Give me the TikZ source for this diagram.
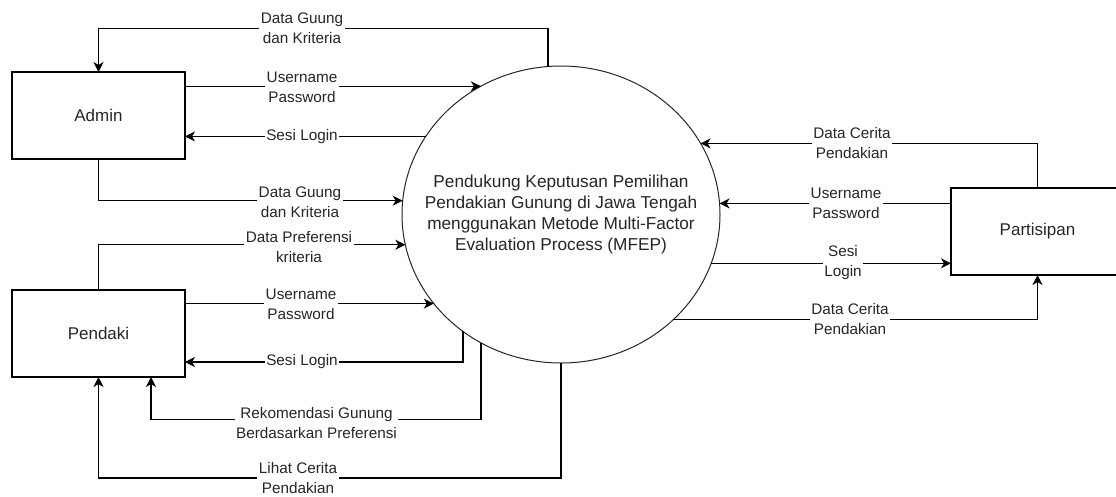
\documentclass[tikz,border=0pt]{standalone}
\usepackage{fontspec}
\setmainfont{Liberation Sans}
\usetikzlibrary{arrows.meta,shapes.geometric}
\begin{document}
\begin{tikzpicture}[x=1pt,y=-1pt,
  ext/.style={draw=black,line width=1.3pt,minimum width=173pt,minimum height=87pt,outer sep=0pt,
    font=\fontsize{17}{20}\selectfont,text=black!85},
  proc/.style={ellipse,draw=black!85,line width=1pt,minimum width=318pt,minimum height=297pt,inner sep=0pt,outer sep=0pt},
  proctext/.style={align=center,inner sep=0pt,font=\fontsize{17.25}{21.3}\selectfont,text=black!85},
  arr/.style={draw=black,line width=1.3pt,-{Stealth[length=10pt,width=10pt,inset=3pt]}},
  lbl/.style={fill=white,inner xsep=1.5pt,inner ysep=0pt,align=center,
    font=\fontsize{15.3}{20}\selectfont,text=black!85}
]
\useasboundingbox (0,0) rectangle (1116,496);
\clip (0,0) rectangle (1116,496);
\fill[white] (0,0) rectangle (1116,496);

% nodes
\node[ext] (admin) at (98.5,115.5) {Admin};
\node[ext] (pendaki) at (98.5,333.5) {Pendaki};
\node[ext] (part) at (1037.5,231.5) {Partisipan};
\node[proc] (p) at (561,214.5) {};
\node[proctext] (ptext) at (p.center) {Pendukung Keputusan Pemilihan\\Pendakian Gunung di Jawa Tengah\\menggunakan Metode Multi-Factor\\Evaluation Process (MFEP)};

% connectors: Admin
\draw[arr] (p.95.8) -- ++(0,-38) -| (admin.north);
\draw[arr] (admin.east |- p.122.6) -- (p.122.6);
\draw[arr] (p.150.25) -- (admin.east |- p.150.25);
\draw[arr] (admin.south) |- (p.175.5);

% connectors: Pendaki
\draw[arr] (pendaki.north) |- (p.191.8);
\draw[arr] (pendaki.east |- p.215.2) -- (p.215.2);
\draw[arr] (p.230) |- ([yshift=-28.5pt]pendaki.east);
\draw[arr] (p.238.5) -- ++(0,76.6) -| ([xshift=52.5pt]pendaki.south);
\draw[arr] (p.south) -- ++(0,115) -| (pendaki.south);

% connectors: Partisipan
\draw[arr] (part.north) |- (p.27.15);
\draw[arr] (part.west |- p.4.15) -- (p.4.15);
\draw[arr] (p.342.9) -- (part.west |- p.342.9);
\draw[arr] (p.317.2) -| (part.south);

% labels
\node[lbl] (l1) at (302,28) {Data Guung\\dan Kriteria};
\node[lbl] (l2) at (302,87) {Username\\Password};
\node[lbl] (l3) at (302,137) {Sesi Login};
\node[lbl] (l4) at (300,202) {Data Guung\\dan Kriteria};
\node[lbl] (l5) at (299,247) {Data Preferensi\\kriteria};
\node[lbl] (l6) at (301,304) {Username\\Password};
\node[lbl] (l7) at (302,362) {Sesi Login};
\node[lbl] (l8) at (316.5,423) {Rekomendasi Gunung\\Berdasarkan Preferensi};
\node[lbl] (l9) at (298,478) {Lihat Cerita\\Pendakian};
\node[lbl] (l10) at (852,143) {Data Cerita\\Pendakian};
\node[lbl] (l11) at (846,203) {Username\\Password};
\node[lbl] (l12) at (843,263) {Sesi\\Login};
\node[lbl] (l13) at (850,319) {Data Cerita\\Pendakian};
\end{tikzpicture}
\end{document}
